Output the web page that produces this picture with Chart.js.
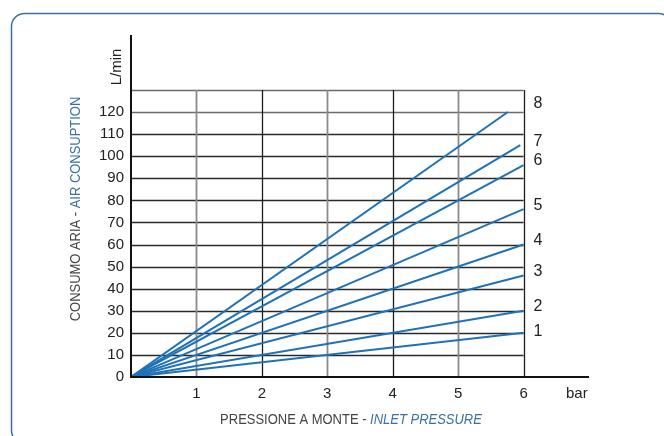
<!DOCTYPE html>
<html>
<head>
<meta charset="utf-8">
<script src="https://cdn.jsdelivr.net/npm/chart.js@4/dist/chart.umd.min.js"></script>
<style>
html,body{margin:0;padding:0;background:#fff;}
#wrap{position:relative;width:664px;height:436px;}
</style>
</head>
<body>
<div id="wrap"><canvas id="c" width="664" height="436"></canvas></div>
<script>
// ---- data ----
const seriesNames = ['1','2','3','4','5','6','7','8'];
const endPressure = [6, 6, 6, 6, 6, 6, 5.95, 5.76];   // bar
const endFlow     = [20, 30, 46, 60, 76, 96, 105, 120]; // L/min
const xTickValues = [1, 2, 3, 4, 5, 6];
const yTickValues = [0, 10, 20, 30, 40, 50, 60, 70, 80, 90, 100, 110, 120];
const gridTopFlow = 130;
const gridRightPressure = 6;

const LINE = '#1f72b8';
const TEXT = '#222222';
const FONT = '"Liberation Sans", Arial, sans-serif';

const datasets = seriesNames.map((n, i) => ({
  label: n,
  data: [{x: 0, y: 0}, {x: endPressure[i], y: endFlow[i]}],
  showLine: true,
  borderColor: LINE,
  backgroundColor: LINE,
  borderWidth: 2,
  pointRadius: 0,
  fill: false
}));

const decor = {
  id: 'decor',
  beforeDatasetsDraw(chart) {
    const ctx = chart.ctx, xs = chart.scales.x, ys = chart.scales.y;
    ctx.save();
    const x0 = xs.getPixelForValue(0), x6 = xs.getPixelForValue(gridRightPressure);
    const yTop = ys.getPixelForValue(gridTopFlow), y0 = ys.getPixelForValue(0);
    const hVals = yTickValues.filter(v => v > 0).concat([gridTopFlow]);
    hVals.forEach(v => {
      const y = Math.round(ys.getPixelForValue(v)) + 0.5;
      ctx.strokeStyle = v >= 120 ? '#6a6a6a' : '#2a2a2a';
      ctx.lineWidth = 1.3;
      ctx.beginPath(); ctx.moveTo(x0, y); ctx.lineTo(x6, y); ctx.stroke();
    });
    xTickValues.forEach(v => {
      const x = Math.round(xs.getPixelForValue(v)) + 0.5;
      ctx.strokeStyle = (v % 2 === 1) ? '#8a8a8a' : '#1e1e1e';
      ctx.lineWidth = (v % 2 === 1) ? 1.8 : 1.3;
      ctx.beginPath(); ctx.moveTo(x, yTop); ctx.lineTo(x, y0); ctx.stroke();
    });
    ctx.restore();
  },
  afterDraw(chart) {
    const ctx = chart.ctx, xs = chart.scales.x, ys = chart.scales.y;
    ctx.save();
    // axis lines
    ctx.strokeStyle = '#111';
    ctx.lineWidth = 2;
    const ax = xs.getPixelForValue(0), ay = ys.getPixelForValue(0);
    ctx.beginPath();
    ctx.moveTo(ax, chart.chartArea.top); ctx.lineTo(ax, ay + 1);
    ctx.moveTo(ax - 1, ay); ctx.lineTo(chart.chartArea.right, ay);
    ctx.stroke();

    // outer rounded frame
    ctx.strokeStyle = '#3b6ea5';
    ctx.lineWidth = 1.5;
    ctx.beginPath();
    ctx.roundRect(11.5, 13.5, 660, 430, 13);
    ctx.stroke();

    // series labels
    ctx.fillStyle = TEXT;
    ctx.font = '16px ' + FONT;
    ctx.textAlign = 'left';
    ctx.textBaseline = 'middle';
    const lx = xs.getPixelForValue(gridRightPressure) + 10;
    seriesNames.forEach((n, i) => {
      let y = ys.getPixelForValue(endFlow[i]) - 4;
      if (n === '8') y -= 4;
      if (n === '1') y += 3;
      ctx.fillText(n, lx, y);
    });

    // units
    ctx.font = '15px ' + FONT;
    ctx.fillText('bar', 566, ay + 17);
    ctx.save();
    ctx.translate(117, 67);
    ctx.rotate(-Math.PI / 2);
    ctx.textAlign = 'center';
    ctx.fillText('L/min', 0, 0);
    ctx.restore();

    // axis titles (two-colour)
    function twoTone(cx, cy, rot, a, b, fa, fb, sx) {
      ctx.save();
      ctx.translate(cx, cy);
      if (rot) ctx.rotate(rot);
      ctx.scale(sx, 1);
      ctx.textBaseline = 'middle';
      ctx.textAlign = 'left';
      ctx.font = fa; const wa = ctx.measureText(a).width;
      ctx.font = fb; const wb = ctx.measureText(b).width;
      const start = -(wa + wb) / 2;
      ctx.font = fa; ctx.fillStyle = '#444';
      ctx.fillText(a, start, 0);
      ctx.font = fb; ctx.fillStyle = '#3a6fa8';
      ctx.fillText(b, start + wa, 0);
      ctx.restore();
    }
    twoTone(351, 420, 0, 'PRESSIONE A MONTE - ', 'INLET PRESSURE',
      '14.5px ' + FONT, 'italic 14.5px ' + FONT, 0.895);
    twoTone(76, 209, -Math.PI / 2, 'CONSUMO ARIA - ', 'AIR CONSUPTION',
      '14px ' + FONT, '14px ' + FONT, 0.925);
    ctx.restore();
  }
};

new Chart(document.getElementById('c'), {
  type: 'scatter',
  data: { datasets },
  options: {
    responsive: false,
    animation: false,
    devicePixelRatio: 1,
    layout: { padding: { left: 0, top: 35, right: 75, bottom: 0 } },
    plugins: { legend: { display: false }, tooltip: { enabled: false } },
    scales: {
      x: {
        type: 'linear', min: 0, max: 7,
        grid: { display: false, drawTicks: false },
        border: { display: false },
        afterFit(s) { s.height = 59; },
        afterBuildTicks(s) { s.ticks = xTickValues.map(v => ({ value: v })); },
        ticks: { padding: 8, color: TEXT, font: { family: FONT, size: 15 }, maxRotation: 0 }
      },
      y: {
        type: 'linear', min: 0, max: 154.9,
        grid: { display: false, drawTicks: false },
        border: { display: false },
        afterFit(s) { s.width = 131; },
        afterBuildTicks(s) { s.ticks = yTickValues.map(v => ({ value: v })); },
        ticks: { padding: 7, color: TEXT, font: { family: FONT, size: 15 } }
      }
    }
  },
  plugins: [decor]
});
</script>
</body>
</html>
